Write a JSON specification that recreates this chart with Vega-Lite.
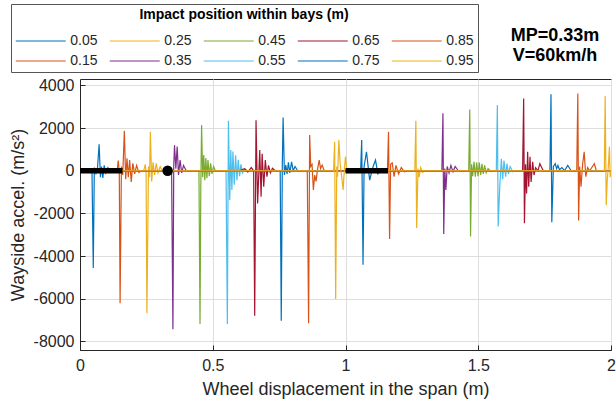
{
  "$schema": "https://vega.github.io/schema/vega-lite/v6.json",
  "width": 531,
  "height": 271,
  "autosize": {"type": "none"},
  "padding": {"left": 80, "top": 79, "right": 5, "bottom": 52},
  "background": "white",
  "config": {
    "font": "Liberation Sans",
    "view": {"stroke": "#262626", "strokeWidth": 1},
    "axis": {
      "labelFont": "Liberation Sans", "labelFontSize": 16, "labelColor": "#262626",
      "titleFont": "Liberation Sans", "titleFontSize": 18, "titleFontWeight": "normal", "titleColor": "#262626",
      "gridColor": "#dedede", "gridWidth": 1, "domainColor": "#262626", "tickColor": "#262626",
      "tickSize": -5, "labelFlush": false
    }
  },
  "title": {
    "text": ["MP=0.33m", "V=60km/h"],
    "anchor": "end", "align": "center", "frame": "group", "dx": -56, "offset": 0, "dy": 61, "baseline": "top",
    "fontSize": 18, "fontWeight": "bold", "font": "Liberation Sans", "color": "#000000", "lineHeight": 20
  },
  "encoding": {
    "x": {"field": "x", "type": "quantitative",
      "scale": {"domain": [0, 2], "nice": false, "zero": false},
      "axis": {"values": [0, 0.5, 1, 1.5, 2], "labelExpr": "'' + datum.value", "title": "Wheel displacement in the span (m)", "labelPadding": 12, "titlePadding": 7}},
    "y": {"field": "y", "type": "quantitative",
      "scale": {"domain": [-8400, 4300], "nice": false, "zero": false},
      "axis": {"values": [-8000, -6000, -4000, -2000, 0, 2000, 4000], "labelExpr": "'' + datum.value", "title": "Wayside accel. (m/s²)", "labelPadding": 11, "titlePadding": 6}}
  },
  "layer": [
    {
      "data": {"values": [
        {"s":"0.05","x":0,"y":0},{"s":"0.05","x":0.03,"y":40},{"s":"0.05","x":0.04,"y":-80},{"s":"0.05","x":0.045,"y":100},{"s":"0.05","x":0.05,"y":-4560},{"s":"0.05","x":0.054,"y":150},{"s":"0.05","x":0.06,"y":-120},{"s":"0.05","x":0.066,"y":150},{"s":"0.05","x":0.072,"y":1240},{"s":"0.05","x":0.077,"y":-300},{"s":"0.05","x":0.081,"y":200},{"s":"0.05","x":0.086,"y":-340},{"s":"0.05","x":0.091,"y":250},{"s":"0.05","x":0.097,"y":-100},{"s":"0.05","x":0.105,"y":150},{"s":"0.05","x":0.115,"y":0},{"s":"0.05","x":1.057,"y":0},{"s":"0.05","x":1.061,"y":1440},{"s":"0.05","x":1.066,"y":-4410},{"s":"0.05","x":1.07,"y":200},{"s":"0.05","x":1.079,"y":890},{"s":"0.05","x":1.091,"y":-440},{"s":"0.05","x":1.104,"y":200},{"s":"0.05","x":1.113,"y":500},{"s":"0.05","x":1.122,"y":-150},{"s":"0.05","x":1.135,"y":50},{"s":"0.05","x":1.15,"y":0},{"s":"0.05","x":2,"y":0},
        {"s":"0.15","x":0,"y":0},{"s":"0.15","x":0.14,"y":0},{"s":"0.15","x":0.144,"y":480},{"s":"0.15","x":0.148,"y":-100},{"s":"0.15","x":0.151,"y":-6210},{"s":"0.15","x":0.156,"y":200},{"s":"0.15","x":0.161,"y":-200},{"s":"0.15","x":0.167,"y":1870},{"s":"0.15","x":0.172,"y":-400},{"s":"0.15","x":0.177,"y":580},{"s":"0.15","x":0.182,"y":-300},{"s":"0.15","x":0.187,"y":500},{"s":"0.15","x":0.193,"y":-520},{"s":"0.15","x":0.199,"y":350},{"s":"0.15","x":0.206,"y":-150},{"s":"0.15","x":0.213,"y":250},{"s":"0.15","x":0.222,"y":-80},{"s":"0.15","x":0.23,"y":0},{"s":"0.15","x":1.158,"y":0},{"s":"0.15","x":1.162,"y":1830},{"s":"0.15","x":1.166,"y":-3200},{"s":"0.15","x":1.17,"y":300},{"s":"0.15","x":1.176,"y":370},{"s":"0.15","x":1.183,"y":-280},{"s":"0.15","x":1.19,"y":250},{"s":"0.15","x":1.2,"y":-150},{"s":"0.15","x":1.21,"y":150},{"s":"0.15","x":1.222,"y":-50},{"s":"0.15","x":1.235,"y":0},{"s":"0.15","x":2,"y":0},
        {"s":"0.25","x":0,"y":0},{"s":"0.25","x":0.24,"y":0},{"s":"0.25","x":0.246,"y":300},{"s":"0.25","x":0.249,"y":-150},{"s":"0.25","x":0.252,"y":-6680},{"s":"0.25","x":0.258,"y":200},{"s":"0.25","x":0.262,"y":-300},{"s":"0.25","x":0.265,"y":1830},{"s":"0.25","x":0.27,"y":-500},{"s":"0.25","x":0.275,"y":400},{"s":"0.25","x":0.281,"y":-200},{"s":"0.25","x":0.287,"y":350},{"s":"0.25","x":0.294,"y":-100},{"s":"0.25","x":0.302,"y":200},{"s":"0.25","x":0.31,"y":0},{"s":"0.25","x":1.261,"y":0},{"s":"0.25","x":1.265,"y":2340},{"s":"0.25","x":1.268,"y":-2680},{"s":"0.25","x":1.273,"y":100},{"s":"0.25","x":1.277,"y":-300},{"s":"0.25","x":1.283,"y":150},{"s":"0.25","x":1.29,"y":-80},{"s":"0.25","x":1.3,"y":0},{"s":"0.25","x":2,"y":0},
        {"s":"0.35","x":0,"y":0},{"s":"0.35","x":0.345,"y":0},{"s":"0.35","x":0.35,"y":-7430},{"s":"0.35","x":0.353,"y":200},{"s":"0.35","x":0.356,"y":1200},{"s":"0.35","x":0.361,"y":100},{"s":"0.35","x":0.366,"y":1130},{"s":"0.35","x":0.371,"y":-200},{"s":"0.35","x":0.377,"y":500},{"s":"0.35","x":0.383,"y":-100},{"s":"0.35","x":0.39,"y":250},{"s":"0.35","x":0.4,"y":0},{"s":"0.35","x":1.363,"y":0},{"s":"0.35","x":1.367,"y":2690},{"s":"0.35","x":1.37,"y":-2960},{"s":"0.35","x":1.374,"y":100},{"s":"0.35","x":1.378,"y":-900},{"s":"0.35","x":1.383,"y":200},{"s":"0.35","x":1.39,"y":-100},{"s":"0.35","x":1.397,"y":250},{"s":"0.35","x":1.405,"y":-50},{"s":"0.35","x":1.413,"y":200},{"s":"0.35","x":1.425,"y":0},{"s":"0.35","x":2,"y":0},
        {"s":"0.45","x":0,"y":0},{"s":"0.45","x":0.448,"y":0},{"s":"0.45","x":0.452,"y":-7180},{"s":"0.45","x":0.455,"y":-750},{"s":"0.45","x":0.458,"y":2140},{"s":"0.45","x":0.462,"y":-300},{"s":"0.45","x":0.466,"y":740},{"s":"0.45","x":0.47,"y":-440},{"s":"0.45","x":0.474,"y":600},{"s":"0.45","x":0.478,"y":-350},{"s":"0.45","x":0.482,"y":500},{"s":"0.45","x":0.487,"y":-250},{"s":"0.45","x":0.492,"y":350},{"s":"0.45","x":0.497,"y":-150},{"s":"0.45","x":0.503,"y":200},{"s":"0.45","x":0.51,"y":0},{"s":"0.45","x":1.464,"y":0},{"s":"0.45","x":1.468,"y":2870},{"s":"0.45","x":1.471,"y":-3080},{"s":"0.45","x":1.475,"y":300},{"s":"0.45","x":1.479,"y":-250},{"s":"0.45","x":1.484,"y":420},{"s":"0.45","x":1.489,"y":-280},{"s":"0.45","x":1.494,"y":400},{"s":"0.45","x":1.499,"y":-250},{"s":"0.45","x":1.504,"y":380},{"s":"0.45","x":1.509,"y":-200},{"s":"0.45","x":1.514,"y":330},{"s":"0.45","x":1.519,"y":-150},{"s":"0.45","x":1.524,"y":250},{"s":"0.45","x":1.53,"y":-100},{"s":"0.45","x":1.537,"y":100},{"s":"0.45","x":1.545,"y":0},{"s":"0.45","x":2,"y":0},
        {"s":"0.55","x":0,"y":0},{"s":"0.55","x":0.55,"y":0},{"s":"0.55","x":0.555,"y":-7180},{"s":"0.55","x":0.559,"y":2340},{"s":"0.55","x":0.564,"y":-1370},{"s":"0.55","x":0.568,"y":970},{"s":"0.55","x":0.572,"y":-900},{"s":"0.55","x":0.576,"y":900},{"s":"0.55","x":0.581,"y":-650},{"s":"0.55","x":0.586,"y":730},{"s":"0.55","x":0.591,"y":-440},{"s":"0.55","x":0.596,"y":510},{"s":"0.55","x":0.601,"y":-250},{"s":"0.55","x":0.606,"y":300},{"s":"0.55","x":0.612,"y":-100},{"s":"0.55","x":0.62,"y":100},{"s":"0.55","x":0.63,"y":0},{"s":"0.55","x":1.568,"y":0},{"s":"0.55","x":1.572,"y":3080},{"s":"0.55","x":1.575,"y":-2610},{"s":"0.55","x":1.581,"y":-750},{"s":"0.55","x":1.587,"y":560},{"s":"0.55","x":1.592,"y":-400},{"s":"0.55","x":1.597,"y":480},{"s":"0.55","x":1.603,"y":-280},{"s":"0.55","x":1.608,"y":330},{"s":"0.55","x":1.614,"y":-150},{"s":"0.55","x":1.62,"y":200},{"s":"0.55","x":1.63,"y":-50},{"s":"0.55","x":1.64,"y":0},{"s":"0.55","x":2,"y":0},
        {"s":"0.65","x":0,"y":0},{"s":"0.65","x":0.6,"y":0},{"s":"0.65","x":0.62,"y":100},{"s":"0.65","x":0.632,"y":-60},{"s":"0.65","x":0.645,"y":150},{"s":"0.65","x":0.654,"y":0},{"s":"0.65","x":0.658,"y":-6800},{"s":"0.65","x":0.663,"y":2370},{"s":"0.65","x":0.669,"y":-1530},{"s":"0.65","x":0.677,"y":970},{"s":"0.65","x":0.682,"y":-1220},{"s":"0.65","x":0.686,"y":800},{"s":"0.65","x":0.692,"y":-750},{"s":"0.65","x":0.698,"y":500},{"s":"0.65","x":0.704,"y":-280},{"s":"0.65","x":0.71,"y":250},{"s":"0.65","x":0.717,"y":-100},{"s":"0.65","x":0.725,"y":120},{"s":"0.65","x":0.735,"y":0},{"s":"0.65","x":1.667,"y":0},{"s":"0.65","x":1.671,"y":3390},{"s":"0.65","x":1.674,"y":-2460},{"s":"0.65","x":1.678,"y":300},{"s":"0.65","x":1.682,"y":-1060},{"s":"0.65","x":1.686,"y":890},{"s":"0.65","x":1.69,"y":-750},{"s":"0.65","x":1.695,"y":650},{"s":"0.65","x":1.699,"y":-520},{"s":"0.65","x":1.705,"y":420},{"s":"0.65","x":1.71,"y":-200},{"s":"0.65","x":1.716,"y":150},{"s":"0.65","x":1.725,"y":0},{"s":"0.65","x":1.732,"y":330},{"s":"0.65","x":1.745,"y":0},{"s":"0.65","x":2,"y":0},
        {"s":"0.75","x":0,"y":0},{"s":"0.75","x":0.754,"y":0},{"s":"0.75","x":0.758,"y":-7030},{"s":"0.75","x":0.762,"y":300},{"s":"0.75","x":0.765,"y":2500},{"s":"0.75","x":0.77,"y":-200},{"s":"0.75","x":0.775,"y":270},{"s":"0.75","x":0.78,"y":-150},{"s":"0.75","x":0.785,"y":400},{"s":"0.75","x":0.79,"y":-100},{"s":"0.75","x":0.797,"y":420},{"s":"0.75","x":0.803,"y":0},{"s":"0.75","x":0.81,"y":200},{"s":"0.75","x":0.82,"y":0},{"s":"0.75","x":1.77,"y":0},{"s":"0.75","x":1.774,"y":3590},{"s":"0.75","x":1.777,"y":-2410},{"s":"0.75","x":1.783,"y":200},{"s":"0.75","x":1.79,"y":330},{"s":"0.75","x":1.795,"y":100},{"s":"0.75","x":1.8,"y":250},{"s":"0.75","x":1.806,"y":50},{"s":"0.75","x":1.815,"y":150},{"s":"0.75","x":1.825,"y":0},{"s":"0.75","x":1.837,"y":250},{"s":"0.75","x":1.85,"y":0},{"s":"0.75","x":2,"y":0},
        {"s":"0.85","x":0,"y":0},{"s":"0.85","x":0.856,"y":0},{"s":"0.85","x":0.861,"y":-7150},{"s":"0.85","x":0.865,"y":1670},{"s":"0.85","x":0.869,"y":200},{"s":"0.85","x":0.874,"y":300},{"s":"0.85","x":0.879,"y":-900},{"s":"0.85","x":0.884,"y":-200},{"s":"0.85","x":0.889,"y":-500},{"s":"0.85","x":0.895,"y":100},{"s":"0.85","x":0.901,"y":500},{"s":"0.85","x":0.906,"y":100},{"s":"0.85","x":0.912,"y":270},{"s":"0.85","x":0.92,"y":0},{"s":"0.85","x":1.871,"y":0},{"s":"0.85","x":1.875,"y":3620},{"s":"0.85","x":1.878,"y":-2330},{"s":"0.85","x":1.882,"y":200},{"s":"0.85","x":1.887,"y":-750},{"s":"0.85","x":1.893,"y":300},{"s":"0.85","x":1.899,"y":890},{"s":"0.85","x":1.905,"y":-280},{"s":"0.85","x":1.912,"y":150},{"s":"0.85","x":1.92,"y":0},{"s":"0.85","x":1.937,"y":330},{"s":"0.85","x":1.945,"y":0},{"s":"0.85","x":2,"y":0},
        {"s":"0.95","x":0,"y":0},{"s":"0.95","x":0.955,"y":0},{"s":"0.95","x":0.959,"y":1360},{"s":"0.95","x":0.963,"y":-6010},{"s":"0.95","x":0.967,"y":200},{"s":"0.95","x":0.97,"y":-280},{"s":"0.95","x":0.975,"y":1440},{"s":"0.95","x":0.98,"y":300},{"s":"0.95","x":0.986,"y":-300},{"s":"0.95","x":0.991,"y":-900},{"s":"0.95","x":0.996,"y":100},{"s":"0.95","x":1.0,"y":660},{"s":"0.95","x":1.006,"y":-100},{"s":"0.95","x":1.012,"y":100},{"s":"0.95","x":1.02,"y":0},{"s":"0.95","x":1.975,"y":0},{"s":"0.95","x":1.978,"y":3500},{"s":"0.95","x":1.982,"y":-1610},{"s":"0.95","x":1.986,"y":-400},{"s":"0.95","x":1.99,"y":200},{"s":"0.95","x":1.994,"y":1120},{"s":"0.95","x":1.997,"y":-300},{"s":"0.95","x":2,"y":0}
      ]},
      "mark": {"type": "line", "strokeWidth": 1.2, "clip": true},
      "encoding": {
        "color": {"field": "s", "type": "nominal",
          "scale": {"domain": ["0.05","0.15","0.25","0.35","0.45","0.55","0.65","0.75","0.85","0.95"],
                    "range": ["#0072BD","#D95319","#EDB120","#7E2F8E","#77AC30","#4DBEEE","#A2142F","#0072BD","#D95319","#EDB120"]},
          "legend": {
            "orient": "none", "legendX": -69, "legendY": -75,
            "direction": "vertical", "columns": 5,
            "title": "Impact position within bays (m)", "titleLimit": 460,
            "titleFont": "Liberation Sans", "titleFontSize": 14, "titleFontWeight": "bold", "titleColor": "#000000",
            "titleAnchor": "middle", "titlePadding": 12,
            "labelFont": "Liberation Sans", "labelFontSize": 14, "labelColor": "#262626",
            "symbolType": "M-4,0H4", "symbolSize": 156, "symbolStrokeWidth": 1.2,
            "symbolOffset": 18.75, "labelOffset": 22.5,
            "columnPadding": 9, "rowPadding": 6, "padding": 4,
            "strokeColor": "#555555", "fillColor": "#ffffff"
          }}
      }
    },
    {
      "data": {"values": [
        {"seg": "a", "x": 0, "y": 0}, {"seg": "a", "x": 0.16, "y": 0},
        {"seg": "b", "x": 1.0, "y": 0}, {"seg": "b", "x": 1.16, "y": 0}
      ]},
      "mark": {"type": "line", "color": "#000000", "strokeWidth": 5.5},
      "encoding": {"detail": {"field": "seg", "type": "nominal"}}
    },
    {
      "data": {"values": [{"x": 0.33, "y": 0}]},
      "mark": {"type": "point", "filled": true, "color": "#000000", "size": 110, "opacity": 1}
    }
  ]
}
